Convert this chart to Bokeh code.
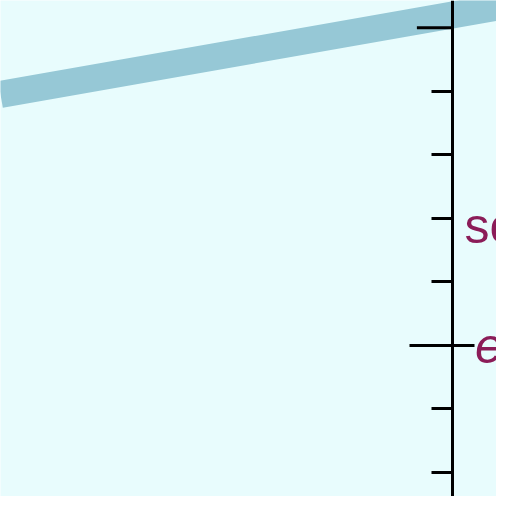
from math import pi
from bokeh.plotting import figure
from bokeh.models import Range1d, LinearAxis, FixedTicker
from bokeh.embed import file_html
from bokeh.resources import INLINE

# Dane
line_x = [0.0, 1.2]
line_y = [0.79, 1.09]

major_ticks = [0]
minor_ticks = [-0.4, -0.2, 0.2, 0.4, 0.6, 0.8]
top_tick = [1]
tick_labels = {0: "e"}

note_x = [1.0257]
note_y = [0.375]
note_text = ["sc"]

axis_at = 1.0

bg = "#e8fcfd"
ink = "#8b1c58"

p = figure(width=496, height=496,
           x_range=Range1d(0, 1.0964), y_range=Range1d(-0.4756, 1.0854),
           x_axis_location=None, y_axis_location=None,
           toolbar_location=None, output_backend="svg", min_border=0)
p.background_fill_color = bg
p.border_fill_color = bg
p.outline_line_color = None
p.grid.visible = False

p.line(line_x, line_y, line_width=27, color="#96c8d6")

p.text(note_x, note_y, text=note_text, text_font_size="50px",
       text_color=ink, text_baseline="alphabetic", text_align="left")

# Os pionowa w srodku wykresu
ax = LinearAxis(fixed_location=axis_at,
                ticker=FixedTicker(ticks=major_ticks, minor_ticks=minor_ticks))
ax.axis_line_width = 3
ax.major_tick_line_width = 3
ax.minor_tick_line_width = 3
ax.major_tick_in = 43
ax.major_tick_out = 22
ax.minor_tick_in = 21
ax.minor_tick_out = 0
ax.major_label_overrides = tick_labels
ax.major_label_text_font_size = "50px"
ax.major_label_text_font_style = "italic"
ax.major_label_text_color = ink
ax.major_label_standoff = 0
p.add_layout(ax, "right")

# dluzsza kreska na gorze osi
p.ray(x=[axis_at], y=top_tick, length=36, angle=pi, length_units="screen",
      line_width=3, color="black")

open("out.html", "w").write(file_html(p, INLINE))
